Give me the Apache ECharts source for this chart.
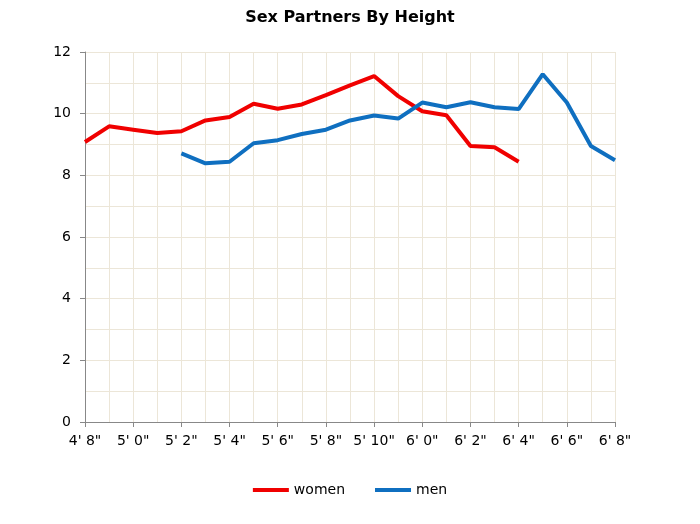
<!DOCTYPE html>
<html><head><meta charset="utf-8">
<script src="https://cdn.jsdelivr.net/npm/echarts@6/dist/echarts.min.js"></script>
<style>html,body{margin:0;padding:0;background:#fff}#c{width:700px;height:524px}</style>
</head><body><div id="c"></div>
<script>
const categories = ["4' 8\"","4' 10\"","5' 0\"","5' 1\"","5' 2\"","5' 3\"","5' 4\"","5' 5\"","5' 6\"","5' 7\"","5' 8\"","5' 9\"","5' 10\"","5' 11\"","6' 0\"","6' 1\"","6' 2\"","6' 3\"","6' 4\"","6' 5\"","6' 6\"","6' 7\"","6' 8\""];
const women = [9.08,9.59,9.48,9.37,9.43,9.78,9.89,10.32,10.16,10.3,10.6,10.92,11.22,10.57,10.08,9.95,8.95,8.91,8.44,null,null,null,null];
const men = [null,null,null,null,8.71,8.39,8.44,9.04,9.14,9.34,9.48,9.78,9.94,9.84,10.36,10.21,10.37,10.21,10.15,11.28,10.36,8.95,8.49];
const F = "DejaVu Sans";
const chart = echarts.init(document.getElementById('c'));
chart.setOption({
  animation:false,
  title:{text:'Sex Partners By Height',left:'center',top:5,textStyle:{fontFamily:F,fontSize:16,fontWeight:'bold',color:'#000'}},
  legend:{bottom:22,left:'center',itemWidth:36,itemHeight:4,itemGap:30,icon:'rect',textStyle:{fontFamily:F,fontSize:14,color:'#000'},data:['women','men']},
  grid:{left:85,right:85,top:52,bottom:102},
  xAxis:{type:'category',data:categories,boundaryGap:false,
    axisLine:{lineStyle:{color:'#888'}},axisTick:{show:true,interval:1,length:5,lineStyle:{color:'#888'}},
    axisLabel:{interval:1,fontFamily:F,fontSize:14,color:'#000',margin:12},
    splitLine:{show:true,interval:0,lineStyle:{color:'#ece6d8'}}},
  yAxis:{type:'value',min:0,max:12,interval:2,
    axisLine:{show:true,lineStyle:{color:'#888'}},axisTick:{show:true,length:5,lineStyle:{color:'#888'}},
    axisLabel:{fontFamily:F,fontSize:14,color:'#000',margin:14},
    splitLine:{lineStyle:{color:'#ece6d8'}},
    minorTick:{show:false,splitNumber:2},
    minorSplitLine:{show:true,lineStyle:{color:'#ece6d8'}}},
  series:[
    {name:'women',type:'line',data:women,showSymbol:false,symbol:'none',lineStyle:{width:4,color:'#f00000'},itemStyle:{color:'#f00000'}},
    {name:'men',type:'line',data:men,showSymbol:false,symbol:'none',lineStyle:{width:4,color:'#0f6fc0'},itemStyle:{color:'#0f6fc0'}}
  ]
});
</script></body></html>
